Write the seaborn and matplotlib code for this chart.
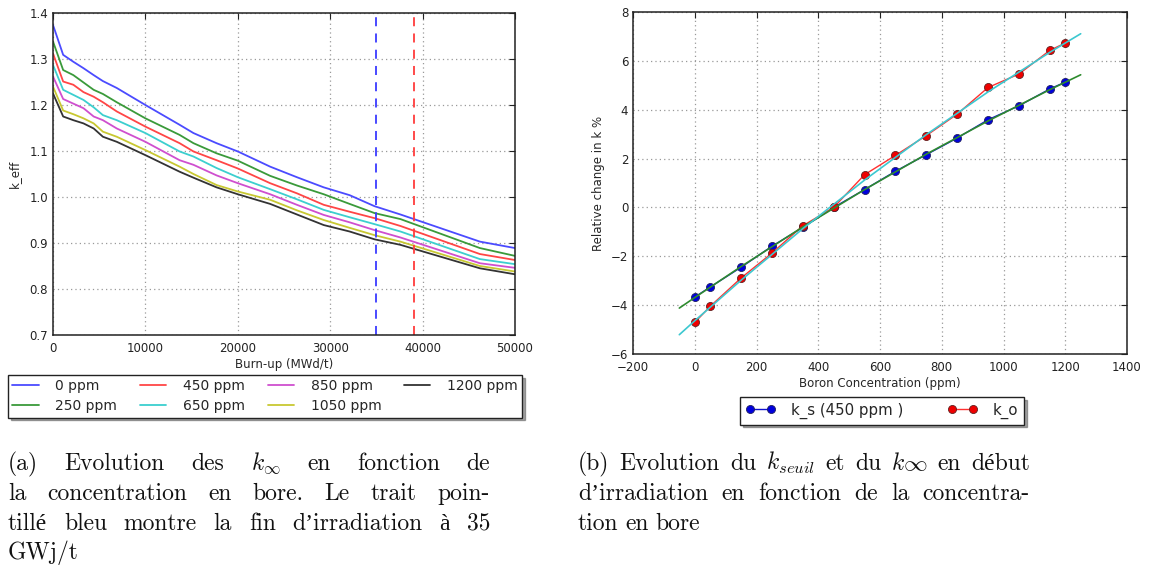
import numpy as np
import pandas as pd
import matplotlib
matplotlib.use("Agg")
import matplotlib.pyplot as plt
import seaborn as sns

# ---------------- data: panel (a) ----------------
burnup = [0, 1100, 2200, 3300, 4400, 5400, 6900, 10000, 13700, 15200, 17700,
          20000, 23500, 26400, 29300, 32100, 34800, 37600, 46200, 50000]
k_0ppm = [1.374, 1.309, 1.294, 1.280, 1.265, 1.252, 1.237, 1.200, 1.157, 1.139, 1.117,
          1.099, 1.066, 1.043, 1.021, 1.004, 0.980, 0.962, 0.903, 0.889]
k_250ppm = [1.338, 1.276, 1.265, 1.249, 1.233, 1.224, 1.206, 1.171, 1.135, 1.117, 1.095,
            1.079, 1.046, 1.025, 1.006, 0.985, 0.965, 0.952, 0.889, 0.872]
k_450ppm = [1.312, 1.251, 1.244, 1.228, 1.218, 1.206, 1.186, 1.153, 1.117, 1.099, 1.080,
            1.062, 1.030, 1.008, 0.983, 0.968, 0.954, 0.937, 0.876, 0.863]
k_650ppm = [1.287, 1.233, 1.222, 1.211, 1.195, 1.178, 1.167, 1.139, 1.099, 1.088, 1.063,
            1.043, 1.017, 0.995, 0.972, 0.956, 0.941, 0.925, 0.865, 0.854]
k_850ppm = [1.262, 1.213, 1.203, 1.193, 1.175, 1.167, 1.149, 1.120, 1.080, 1.070, 1.047,
            1.030, 1.006, 0.983, 0.961, 0.945, 0.928, 0.912, 0.856, 0.846]
k_1050ppm = [1.240, 1.188, 1.180, 1.171, 1.160, 1.142, 1.131, 1.102, 1.066, 1.050, 1.026,
             1.012, 0.994, 0.971, 0.950, 0.933, 0.917, 0.903, 0.850, 0.838]
k_1200ppm = [1.225, 1.175, 1.167, 1.160, 1.149, 1.131, 1.120, 1.091, 1.055, 1.042, 1.021,
             1.006, 0.985, 0.962, 0.939, 0.925, 0.908, 0.896, 0.845, 0.832]
series_labels = ["0 ppm", "250 ppm", "450 ppm", "650 ppm", "850 ppm", "1050 ppm", "1200 ppm"]
series_values = [k_0ppm, k_250ppm, k_450ppm, k_650ppm, k_850ppm, k_1050ppm, k_1200ppm]
series_colors = ["#4b4bff", "#3a9a3a", "#ff4646", "#3ccfcf", "#cf4fcf", "#c8c832", "#333333"]
end_blue = 35000
end_red = 39100

# ---------------- data: panel (b) ----------------
boron = [0, 50, 150, 250, 350, 450, 550, 650, 750, 850, 950, 1050, 1150, 1200]
k_s = [-3.67, -3.26, -2.45, -1.59, -0.82, 0.0, 0.73, 1.48, 2.16, 2.84, 3.59, 4.16, 4.85, 5.13]
k_o = [-4.71, -4.05, -2.89, -1.87, -0.75, 0.0, 1.34, 2.13, 2.94, 3.82, 4.91, 5.46, 6.43, 6.73]
fit_x = [-50, 0, 150, 350, 550, 750, 950, 1150, 1250]
fit_s = [-4.12, -3.69, -2.42, -0.80, 0.73, 2.18, 3.54, 4.82, 5.43]
fit_o = [-5.21, -4.64, -2.98, -0.87, 1.12, 2.98, 4.73, 6.35, 7.11]

# ---------------- style ----------------
sns.set_style("white")
plt.rcParams["font.family"] = ["DejaVu Sans"]
plt.rcParams["mathtext.fontset"] = "cm"
plt.rcParams["xtick.direction"] = "in"
plt.rcParams["ytick.direction"] = "in"

W, H = 1150, 572
fig = plt.figure(figsize=(W / 100, H / 100), dpi=100)

def axes_px(x0, y0, x1, y1):
    return fig.add_axes([x0 / W, 1 - y1 / H, (x1 - x0) / W, (y1 - y0) / H])

axA = axes_px(53, 13, 515, 335)
axB = axes_px(633, 12, 1127, 354)

def style_axes(ax):
    for s in ax.spines.values():
        s.set_color("#222222")
        s.set_linewidth(1.1)
    ax.grid(True, linestyle=(0, (1, 2.5)), color="#999999", linewidth=0.9)
    ax.set_axisbelow(True)
    ax.tick_params(labelsize=8.5, colors="#222222", length=4, width=0.8,
                   top=True, right=True, direction="in")
    ax.tick_params(axis="x", pad=5)

# ---------------- panel (a) ----------------
rows = []
for lab, vals in zip(series_labels, series_values):
    for b, v in zip(burnup, vals):
        rows.append((lab, b, v))
dfA = pd.DataFrame(rows, columns=["boron", "burnup", "k"])
sns.lineplot(data=dfA, x="burnup", y="k", hue="boron", hue_order=series_labels,
             palette=dict(zip(series_labels, series_colors)), linewidth=1.3,
             ax=axA, legend=False, estimator=None, sort=False)
axA.axvline(end_blue, color="#3a3aff", linestyle=(0, (5, 4)), linewidth=1.3)
axA.axvline(end_red, color="#ff3c3c", linestyle=(0, (5, 4)), linewidth=1.3)
axA.set_xlim(0, 50000)
axA.set_ylim(0.7, 1.4)
axA.set_xticks([0, 10000, 20000, 30000, 40000, 50000])
axA.set_yticks(np.arange(0.7, 1.41, 0.1))
axA.set_xlabel("Burn-up (MWd/t)", fontsize=8.5, labelpad=2)
axA.set_ylabel("k_eff", fontsize=8.5, labelpad=6)
style_axes(axA)

handlesA = [plt.Line2D([], [], color=c, linewidth=1.3) for c in series_colors]
legA = fig.legend(handlesA, series_labels, ncol=4, loc="upper left",
                  bbox_to_anchor=(8 / W, 1 - 375 / H, 514 / W, 0.0001), mode="expand",
                  fontsize=10, frameon=True, shadow=True, fancybox=False,
                  handlelength=1.9, handletextpad=1.2, borderpad=0.3,
                  labelspacing=0.45, borderaxespad=0, edgecolor="#222222")
legA.get_frame().set_linewidth(1.0)

# ---------------- panel (b) ----------------
dfB = pd.DataFrame({"boron": boron, "k_s": k_s, "k_o": k_o})
sns.lineplot(data=dfB, x="boron", y="k_s", ax=axB, color="#1010d0", linewidth=1.0,
             marker="o", markersize=5.8, markerfacecolor="#0000dd",
             markeredgecolor="#202060", markeredgewidth=0.6, label="k_s (450 ppm )",
             estimator=None, sort=False)
sns.lineplot(data=dfB, x="boron", y="k_o", ax=axB, color="#ff3030", linewidth=1.0,
             marker="o", markersize=5.8, markerfacecolor="#ee0000",
             markeredgecolor="#602020", markeredgewidth=0.6, label="k_o",
             estimator=None, sort=False)
dfF = pd.DataFrame({"x": fit_x, "s": fit_s, "o": fit_o})
sns.lineplot(data=dfF, x="x", y="s", ax=axB, color="#2e8b2e", linewidth=1.2,
             estimator=None, sort=False)
sns.lineplot(data=dfF, x="x", y="o", ax=axB, color="#3cc8d0", linewidth=1.2,
             estimator=None, sort=False)
axB.set_xlim(-200, 1400)
axB.set_ylim(-6, 8)
axB.set_xticks(np.arange(-200, 1401, 200))
axB.set_yticks(np.arange(-6, 9, 2))
axB.set_xlabel("Boron Concentration (ppm)", fontsize=8.5, labelpad=2)
axB.set_ylabel("Relative change in k %", fontsize=8.5, labelpad=4)
style_axes(axB)
hB, lB = axB.get_legend_handles_labels()
if axB.get_legend():
    axB.get_legend().remove()
legB = fig.legend(hB[:2], lB[:2], ncol=2, loc="upper center",
                  bbox_to_anchor=(882 / W, 1 - 397 / H), fontsize=10.8, frameon=True,
                  shadow=True, fancybox=False, numpoints=2, handlelength=2.0,
                  handletextpad=1.0, columnspacing=3.0, borderpad=0.38,
                  borderaxespad=0, edgecolor="#222222")
legB.get_frame().set_linewidth(1.0)

# ---------------- captions ----------------
cap_kw = dict(fontsize=17, color="#111111", family=["cmr10", "Liberation Serif"])

def place_line(words, x0, x1, y_base, justify):
    texts = [fig.text(x0 / W, 1 - y_base / H, w, ha="left", va="baseline", **cap_kw)
             for w in words]
    fig.canvas.draw()
    r = fig.canvas.get_renderer()
    widths = [t.get_window_extent(r).width for t in texts]
    if justify and len(words) > 1:
        gap = (x1 - x0 - sum(widths)) / (len(words) - 1)
    else:
        gap = 6.5
    x = x0
    for t, w in zip(texts, widths):
        t.set_x(x / W)
        x += w + gap

cap_a = [
    (["(a)", "Evolution", "des", r"$k_\infty$", "en", "fonction", "de"], True),
    (["la", "concentration", "en", "bore.", "Le", "trait", "poin-"], True),
    (["tillé", "bleu", "montre", "la", "fin", "d’irradiation", "à", "35"], True),
    (["GWj/t"], False),
]
cap_b = [
    (["(b)", "Evolution", "du", r"$k_{seuil}$", "et", "du", r"$k\infty$", "en", "début"], True),
    (["d’irradiation", "en", "fonction", "de", "la", "concentra-"], True),
    (["tion", "en", "bore"], False),
]
baselines = [470, 500, 530, 559]
for (words, just), yb in zip(cap_a, baselines):
    place_line(words, 8, 490, yb, just)
for (words, just), yb in zip(cap_b, baselines):
    place_line(words, 578, 1030, yb, just)

fig.savefig("out.png", dpi=100)
